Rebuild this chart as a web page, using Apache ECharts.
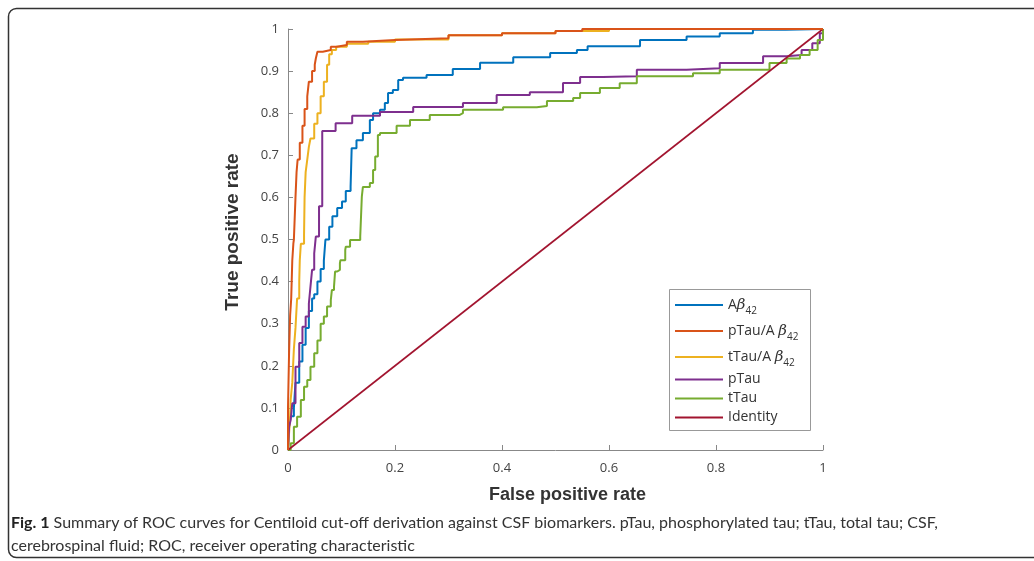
<!DOCTYPE html>
<html>
<head>
<meta charset="utf-8">
<script src="https://cdn.jsdelivr.net/npm/echarts@6/dist/echarts.min.js"></script>
<style>
  html, body { margin: 0; padding: 0; background: #fff; }
  #chart { width: 1034px; height: 561px; }
</style>
</head>
<body>
<div id="chart"></div>
<script>
// ROC points [false positive rate, true positive rate]
const abeta42 = [[0,0],[0.002,0.055],[0.005,0.08],[0.011,0.10],[0.014,0.16],[0.021,0.21],[0.027,0.25],[0.033,0.29],[0.039,0.33],[0.045,0.36],[0.049,0.37],[0.055,0.40],[0.061,0.43],[0.067,0.45],[0.070,0.50],[0.077,0.53],[0.083,0.555],[0.092,0.575],[0.101,0.59],[0.108,0.615],[0.117,0.625],[0.119,0.717],[0.128,0.736],[0.140,0.753],[0.153,0.784],[0.159,0.80],[0.172,0.808],[0.181,0.824],[0.187,0.848],[0.196,0.855],[0.206,0.879],[0.215,0.884],[0.259,0.891],[0.308,0.905],[0.359,0.92],[0.421,0.933],[0.49,0.943],[0.54,0.95],[0.56,0.959],[0.658,0.974],[0.745,0.982],[0.807,0.99],[0.869,0.998],[0.93,1],[1,1]];
const ptauRatio = [[0,0],[0,0.1],[0.002,0.23],[0.004,0.32],[0.006,0.36],[0.008,0.45],[0.010,0.49],[0.011,0.50],[0.014,0.60],[0.016,0.66],[0.018,0.69],[0.022,0.73],[0.027,0.77],[0.031,0.81],[0.036,0.84],[0.039,0.875],[0.045,0.90],[0.050,0.915],[0.052,0.93],[0.055,0.946],[0.065,0.95],[0.080,0.958],[0.091,0.962],[0.11,0.97],[0.14,0.974],[0.2,0.978],[0.3,0.985],[0.4,0.99],[0.5,0.995],[0.55,1],[1,1]];
const ttauRatio = [[0,0],[0.002,0.04],[0.004,0.08],[0.005,0.12],[0.008,0.16],[0.011,0.24],[0.014,0.29],[0.017,0.36],[0.021,0.40],[0.022,0.45],[0.024,0.49],[0.030,0.51],[0.031,0.6],[0.033,0.66],[0.036,0.69],[0.039,0.72],[0.042,0.74],[0.049,0.775],[0.055,0.80],[0.061,0.84],[0.067,0.875],[0.073,0.915],[0.077,0.94],[0.082,0.95],[0.09,0.958],[0.11,0.965],[0.15,0.97],[0.2,0.975],[0.3,0.985],[0.4,0.99],[0.5,0.995],[0.6,1],[1,1]];
const ptau = [[0,0],[0.002,0.055],[0.005,0.071],[0.008,0.111],[0.014,0.198],[0.021,0.254],[0.027,0.293],[0.033,0.317],[0.039,0.348],[0.042,0.388],[0.045,0.428],[0.049,0.467],[0.052,0.507],[0.058,0.579],[0.064,0.758],[0.089,0.776],[0.12,0.794],[0.172,0.803],[0.234,0.815],[0.327,0.824],[0.39,0.843],[0.452,0.85],[0.514,0.872],[0.546,0.886],[0.589,0.888],[0.652,0.903],[0.745,0.907],[0.807,0.919],[0.888,0.935],[0.932,0.938],[0.96,0.95],[0.98,0.966],[0.994,0.99],[1,1]];
const ttau = [[0,0],[0.005,0.016],[0.011,0.055],[0.017,0.079],[0.024,0.119],[0.03,0.15],[0.036,0.166],[0.042,0.198],[0.049,0.23],[0.055,0.26],[0.061,0.3],[0.067,0.317],[0.073,0.341],[0.08,0.356],[0.082,0.38],[0.086,0.388],[0.088,0.424],[0.092,0.428],[0.097,0.444],[0.098,0.451],[0.107,0.475],[0.108,0.483],[0.116,0.499],[0.135,0.507],[0.138,0.602],[0.140,0.625],[0.153,0.634],[0.159,0.665],[0.163,0.697],[0.168,0.708],[0.168,0.748],[0.172,0.753],[0.203,0.77],[0.228,0.784],[0.265,0.796],[0.321,0.80],[0.327,0.808],[0.402,0.814],[0.465,0.817],[0.484,0.829],[0.533,0.836],[0.546,0.848],[0.583,0.86],[0.62,0.871],[0.652,0.888],[0.757,0.895],[0.807,0.903],[0.9,0.919],[0.932,0.93],[0.957,0.938],[0.975,0.95],[0.99,0.974],[1,0.98],[1,1]];
const identity = [[0,0],[1,1]];

const names = ['Aβ42', 'pTau/Aβ42', 'tTau/Aβ42', 'pTau', 'tTau', 'Identity'];
const colors = ['#0072BD', '#D95319', '#EDB120', '#7E2F8E', '#77AC30', '#A2142F'];
const curves = [abeta42, ptauRatio, ttauRatio, ptau, ttau, identity];

const caption = 'Summary of ROC curves for Centiloid cut-off derivation against CSF biomarkers. pTau, phosphorylated tau; tTau, total tau; CSF,';
const caption2 = 'cerebrospinal fluid; ROC, receiver operating characteristic';

const chart = echarts.init(document.getElementById('chart'));
const font = 'Open Sans';

// legend labels with italic beta and subscript 42
const legendText = {
  'Aβ42': 'A{b|β}{s|42}',
  'pTau/Aβ42': 'pTau/A {b|β}{s|42}',
  'tTau/Aβ42': 'tTau/A {b|β}{s|42}'
};

const option = {
  animation: false,
  grid: { left: 288, right: 211, top: 29, bottom: 111 },
  xAxis: {
    type: 'value', min: 0, max: 1, interval: 0.2,
    name: 'False positive rate', nameLocation: 'middle', nameGap: 36,
    nameTextStyle: { fontFamily: 'Liberation Sans', fontWeight: 'bold', fontSize: 18, color: '#333', padding: [0, 0, 0, 24] },
    axisLine: { lineStyle: { color: '#888' } },
    axisTick: { inside: true, length: 5, lineStyle: { color: '#888' } },
    axisLabel: { margin: 12, fontFamily: font, fontSize: 13, color: '#444' },
    splitLine: { show: false }
  },
  yAxis: {
    type: 'value', min: 0, max: 1, interval: 0.1,
    name: 'True positive rate', nameLocation: 'middle', nameGap: 46,
    nameTextStyle: { fontFamily: 'Liberation Sans', fontWeight: 'bold', fontSize: 19, color: '#333', padding: [0, 0, 0, 15] },
    axisLine: { show: true, lineStyle: { color: '#888' } },
    axisTick: { show: true, inside: true, length: 5, lineStyle: { color: '#888' } },
    axisLabel: { margin: 9, fontFamily: font, fontSize: 13, color: '#444' },
    splitLine: { show: false }
  },
  legend: {
    orient: 'vertical', left: 675, top: 294, itemGap: 4,
    itemWidth: 48, itemHeight: 2, padding: 0, icon: 'rect',
    data: names,
    formatter: n => legendText[n] || n,
    textStyle: {
      fontFamily: font, fontSize: 14, color: '#333', lineHeight: 15,
      rich: {
        b: { fontFamily: 'DejaVu Serif', fontStyle: 'italic', fontSize: 15, color: '#333', lineHeight: 22 },
        s: { fontFamily: font, fontSize: 10, color: '#333', lineHeight: 12, verticalAlign: 'bottom' }
      }
    }
  },
  graphic: [
    { type: 'rect', shape: { x: 8.5, y: 8.5, width: 1050, height: 549, r: 8 },
      style: { fill: 'none', stroke: '#333', lineWidth: 1.5 }, silent: true },
    { type: 'rect', shape: { x: 669.5, y: 289.5, width: 141, height: 141 },
      style: { fill: '#fff', stroke: '#999', lineWidth: 1 }, z: -1, silent: true },
    { type: 'text', left: 11, top: 511,
      style: {
        text: '{b|Fig. 1} ' + caption + '\n' + caption2,
        fontFamily: 'Lato', fontSize: 16, lineHeight: 23, fill: '#333',
        rich: { b: { fontFamily: 'Lato', fontWeight: 'bold', fontSize: 16, fill: '#222' } }
      } }
  ],
  series: curves.map((d, i) => ({
    name: names[i],
    type: 'line',
    data: d,
    step: names[i] === 'Identity' ? false : 'end',
    symbol: 'none',
    color: colors[i],
    lineStyle: { width: names[i] === 'Identity' ? 1.6 : 2, color: colors[i] },
    z: i === 1 ? 3 : 2
  }))
};
chart.setOption(option);
</script>
</body>
</html>
